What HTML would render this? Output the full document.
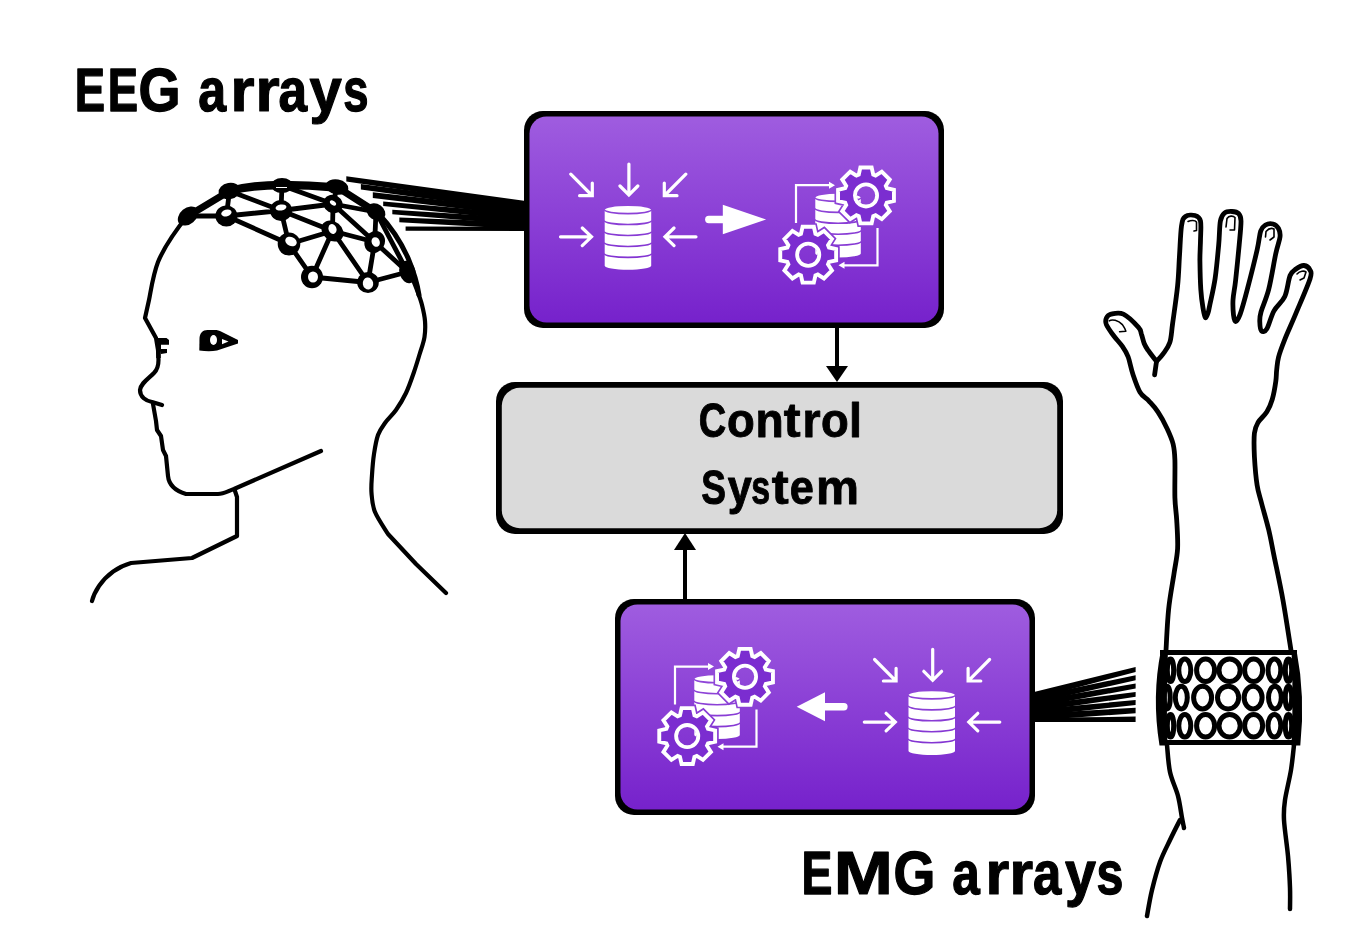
<!DOCTYPE html>
<html><head><meta charset="utf-8">
<style>
html,body{margin:0;padding:0;background:#fff;width:1362px;height:951px;overflow:hidden}
svg{display:block}
text{font-family:"Liberation Sans",sans-serif;font-weight:bold;fill:#000;-webkit-font-smoothing:antialiased}
</style></head>
<body>
<svg width="1362" height="951" viewBox="0 0 1362 951">
<defs>
<linearGradient id="PG1" gradientUnits="userSpaceOnUse" x1="0" y1="111" x2="0" y2="328">
<stop offset="0" stop-color="#a05ee0"/>
<stop offset="1" stop-color="#7520cb"/>
</linearGradient>
<linearGradient id="PG2" gradientUnits="userSpaceOnUse" x1="0" y1="599" x2="0" y2="815">
<stop offset="0" stop-color="#a05ee0"/>
<stop offset="1" stop-color="#7520cb"/>
</linearGradient>
</defs>
<g opacity="0.999"><text transform="translate(74.76 111.00) scale(0.7517 1)" font-size="60.47" stroke="#000" stroke-width="1.2" vector-effect="non-scaling-stroke" stroke-linejoin="round">E</text>
<text transform="translate(107.66 111.00) scale(0.7517 1)" font-size="60.47" stroke="#000" stroke-width="1.2" vector-effect="non-scaling-stroke" stroke-linejoin="round">E</text>
<text transform="translate(138.58 111.00) scale(0.8945 1)" font-size="60.47" stroke="#000" stroke-width="1.2" vector-effect="non-scaling-stroke" stroke-linejoin="round">G</text>
<text transform="translate(198.23 111.00) scale(0.8281 1)" font-size="60.47" stroke="#000" stroke-width="1.2" vector-effect="non-scaling-stroke" stroke-linejoin="round">a</text>
<text transform="translate(230.54 111.00) scale(1.0199 1)" font-size="60.47" stroke="#000" stroke-width="1.2" vector-effect="non-scaling-stroke" stroke-linejoin="round">r</text>
<text transform="translate(255.51 111.00) scale(1.0252 1)" font-size="60.47" stroke="#000" stroke-width="1.2" vector-effect="non-scaling-stroke" stroke-linejoin="round">r</text>
<text transform="translate(278.39 111.00) scale(0.8499 1)" font-size="60.47" stroke="#000" stroke-width="1.2" vector-effect="non-scaling-stroke" stroke-linejoin="round">a</text>
<text transform="translate(309.45 111.00) scale(0.9595 1)" font-size="60.47" stroke="#000" stroke-width="1.2" vector-effect="non-scaling-stroke" stroke-linejoin="round">y</text>
<text transform="translate(343.20 111.00) scale(0.7511 1)" font-size="60.47" stroke="#000" stroke-width="1.2" vector-effect="non-scaling-stroke" stroke-linejoin="round">s</text>
<text transform="translate(801.60 894.30) scale(0.7537 1)" font-size="61.48" stroke="#000" stroke-width="1.2" vector-effect="non-scaling-stroke" stroke-linejoin="round">E</text>
<text transform="translate(833.85 894.30) scale(1.1561 1)" font-size="61.48" stroke="#000" stroke-width="1.2" vector-effect="non-scaling-stroke" stroke-linejoin="round">M</text>
<text transform="translate(893.39 894.30) scale(0.8749 1)" font-size="61.48" stroke="#000" stroke-width="1.2" vector-effect="non-scaling-stroke" stroke-linejoin="round">G</text>
<text transform="translate(952.25 894.30) scale(0.8053 1)" font-size="61.48" stroke="#000" stroke-width="1.2" vector-effect="non-scaling-stroke" stroke-linejoin="round">a</text>
<text transform="translate(985.58 894.30) scale(0.9924 1)" font-size="61.48" stroke="#000" stroke-width="1.2" vector-effect="non-scaling-stroke" stroke-linejoin="round">r</text>
<text transform="translate(1009.40 894.30) scale(0.9871 1)" font-size="61.48" stroke="#000" stroke-width="1.2" vector-effect="non-scaling-stroke" stroke-linejoin="round">r</text>
<text transform="translate(1033.11 894.30) scale(0.8266 1)" font-size="61.48" stroke="#000" stroke-width="1.2" vector-effect="non-scaling-stroke" stroke-linejoin="round">a</text>
<text transform="translate(1065.07 894.30) scale(0.9046 1)" font-size="61.48" stroke="#000" stroke-width="1.2" vector-effect="non-scaling-stroke" stroke-linejoin="round">y</text>
<text transform="translate(1096.50 894.30) scale(0.7861 1)" font-size="61.48" stroke="#000" stroke-width="1.2" vector-effect="non-scaling-stroke" stroke-linejoin="round">s</text></g>
<g fill="none" stroke="#000" stroke-linecap="round" stroke-linejoin="round">
<path stroke-width="4.2" d="M188 215 C176 230 165 245 158 262 C153 275 151 290 149 300 L145 318 L156 338 L158 350 L158.5 360 C158.5 365 158 369 154 373 C148 379 141 383 140 390 C140 397 146 401 152 402 L162 405"/>
<path stroke-width="4.2" d="M153 404 L156 421 L157 430 L161 436 L163 450 L166 456 L168 476 C169 486 176 491 186 494 L218 494 C224 494 228 491 234 489 L321 451"/>
<path stroke-width="4.2" d="M235 491 L237 497 L237 536 L192 558 L131 563 C117 567 106 576 99 586 C95 592 93 597 92 601"/>
<path stroke-width="4.2" d="M411.0 275.0 C412.0 277.5 415.2 285.0 417.0 290.0 C418.8 295.0 420.7 299.8 422.0 305.0 C423.3 310.2 424.6 315.7 425.0 321.0 C425.4 326.3 425.3 331.7 424.5 337.0 C423.7 342.3 421.8 347.2 420.0 353.0 C418.2 358.8 416.3 365.3 414.0 372.0 C411.7 378.7 409.0 386.7 406.0 393.0 C403.0 399.3 399.5 405.0 396.0 410.0 C392.5 415.0 388.0 418.8 385.0 423.0 C382.0 427.2 379.8 429.8 378.0 435.0 C376.2 440.2 375.0 447.3 374.0 454.0 C373.0 460.7 372.4 468.5 372.0 475.0 C371.6 481.5 371.0 486.8 371.5 493.0 C372.0 499.2 372.2 505.2 375.0 512.0 C377.8 518.8 385.8 530.3 388.0 534.0 L416 564 L446 593"/>
<path stroke-width="4.5" stroke-linecap="butt" d="M158.5 339 L158.5 358"/>
</g>
<path d="M156 338 L166.5 338 L169 340 L169 344.8 L161 344.8 L161 349 L167 349 L167 353 L161 354 Z" fill="#000"/>
<path d="M199.3 350.5 L199.5 338 C199.8 333.5 202.5 330 207.5 330 L216.5 330 C219 330.5 221 331.5 223 332.5 L238 340 L238 343.5 L217 350.5 C212 351.5 206 351.5 199.3 350.5 Z" fill="#000"/>
<ellipse cx="213.5" cy="340" rx="3.5" ry="5" fill="#fff"/>
<path d="M222 339 L228.5 341.5 L222 344.2 Z" fill="#fff"/>

<g fill="none" stroke="#000" stroke-linecap="round" stroke-linejoin="round">
<path stroke-width="4.8" d="M188 216 L226.4 216 M229.5 191 L226.4 216 M226.4 216 L281 210.5 M226.4 216 L289 244 M229.5 191 L281 210.5 M282 185.5 L281 210.5 M281 210.5 L333 204 M282 185.5 L333 204 M281 210.5 L332.5 231 M281 210.5 L289 244 M337 187 L333 204 M333 204 L332.5 231 M333 204 L376 212 M333 204 L374.7 242 M289 244 L332.5 231 M289 244 L312 277 M332.5 231 L312 277 M332.5 231 L368 282.5 M332.5 231 L374.7 242 M374.7 242 L368 282.5 M374.7 242 L376 212 M312 277 L368 282.5 M368 282.5 L407.5 272 M374.7 242 L407.5 272 M376 212 L407.5 272"/>
<path stroke-width="7" d="M188 216 L229.5 191"/>
<path stroke-width="8.5" d="M229.5 191 C245 187 265 185 282 185 C300 185 320 186 337 187.5"/>
<path stroke-width="7" d="M337 187 L376 212"/>
<path stroke-width="5" d="M378 213 C392 228 400 240 408 258 C413 270 417 282 419 295"/>
</g>
<g fill="#000">
<ellipse cx="188" cy="216" rx="11.5" ry="8" transform="rotate(-40 188 216)"/>
<ellipse cx="229.5" cy="191" rx="11" ry="8" transform="rotate(-10 229.5 191)"/>
<ellipse cx="282" cy="185.5" rx="11" ry="7.5"/>
<ellipse cx="337" cy="187" rx="11.5" ry="7.5" transform="rotate(10 337 187)"/>
<ellipse cx="376" cy="212" rx="10" ry="8" transform="rotate(35 376 212)"/>
<ellipse cx="407.5" cy="272" rx="8" ry="11.5" transform="rotate(-15 407.5 272)"/>
</g>
<path d="M276 187.5 L287 187.5" stroke="#fff" stroke-width="1"/>
<g>
<ellipse cx="226.4" cy="216" rx="11" ry="10.5" transform="rotate(0 226.4 216)" fill="#000"/>
<ellipse cx="226.4" cy="213" rx="5.3" ry="3.3" transform="rotate(-15 226.4 213)" fill="#fff"/>
<ellipse cx="281" cy="210.5" rx="11" ry="10.5" transform="rotate(0 281 210.5)" fill="#000"/>
<ellipse cx="281" cy="207.5" rx="5.5" ry="3" transform="rotate(-10 281 207.5)" fill="#fff"/>
<ellipse cx="333" cy="204" rx="10" ry="9" transform="rotate(30 333 204)" fill="#000"/>
<ellipse cx="333" cy="203" rx="3.5" ry="2" transform="rotate(35 333 203)" fill="#fff"/>
<ellipse cx="289" cy="244" rx="11.3" ry="11.5" transform="rotate(0 289 244)" fill="#000"/>
<ellipse cx="291" cy="241.5" rx="6" ry="4.5" transform="rotate(25 291 241.5)" fill="#fff"/>
<ellipse cx="332.5" cy="231" rx="12" ry="9.5" transform="rotate(40 332.5 231)" fill="#000"/>
<ellipse cx="332.5" cy="229" rx="4" ry="5" transform="rotate(-20 332.5 229)" fill="#fff"/>
<ellipse cx="374.7" cy="242" rx="10" ry="11.3" transform="rotate(30 374.7 242)" fill="#000"/>
<ellipse cx="375.7" cy="242" rx="4" ry="5" transform="rotate(-25 375.7 242)" fill="#fff"/>
<ellipse cx="312" cy="277" rx="11" ry="11.3" transform="rotate(0 312 277)" fill="#000"/>
<ellipse cx="313" cy="277" rx="5" ry="5.6" transform="rotate(0 313 277)" fill="#fff"/>
<ellipse cx="368" cy="282.5" rx="10.8" ry="10.5" transform="rotate(0 368 282.5)" fill="#000"/>
<ellipse cx="368" cy="283.5" rx="5.2" ry="6" transform="rotate(-10 368 283.5)" fill="#fff"/>
</g>
<path d="M346.3 176.3 L524 200.70 L524 207.70 L346.3 181.5 Z" fill="#000"/>
<path d="M360.9 184 L524 205.03 L524 212.03 L360.9 189.5 Z" fill="#000"/>
<path d="M372.8 192.3 L524 209.36 L524 216.36 L372.8 197.9 Z" fill="#000"/>
<path d="M383.2 201.4 L524 213.69 L524 220.69 L383.2 206 Z" fill="#000"/>
<path d="M392.3 209.8 L524 218.02 L524 225.02 L392.3 214.3 Z" fill="#000"/>
<path d="M399.3 217.4 L524 222.35 L524 229.35 L399.3 222.3 Z" fill="#000"/>
<path d="M405.6 226.5 L524 226.68 L524 231.00 L405.6 230.7 Z" fill="#000"/>
<g fill="none" stroke="#000" stroke-linecap="round" stroke-linejoin="round">
<path stroke-width="4.8" d="M1166.0 650.4 C1166.4 643.6 1167.3 622.2 1168.6 609.4 C1169.9 596.6 1172.5 583.7 1174.0 573.6 C1175.5 563.5 1177.1 557.5 1177.6 548.6 C1178.0 539.7 1177.2 528.5 1176.7 520.0 C1176.2 511.5 1175.2 507.6 1174.9 497.6 C1174.6 487.6 1175.2 469.0 1174.9 460.1 C1174.6 451.2 1174.4 449.4 1173.1 444.0 C1171.8 438.6 1169.3 433.3 1166.8 427.9 C1164.3 422.5 1160.9 416.3 1157.9 411.8 C1154.9 407.3 1152.0 404.4 1149.0 401.1 C1146.0 397.8 1142.7 396.7 1140.0 392.2 C1137.3 387.7 1134.9 380.2 1132.9 374.3 C1130.9 368.4 1129.8 361.5 1128.1 356.8 C1126.3 352.1 1124.8 349.9 1122.4 346.4 C1120.0 342.9 1116.6 339.6 1113.9 336.0 C1111.2 332.4 1107.7 327.6 1106.4 324.6 C1105.2 321.6 1105.6 319.7 1106.4 318.0 C1107.2 316.3 1108.3 314.8 1111.1 314.2 C1113.9 313.6 1118.8 312.0 1123.4 314.2 C1128.0 316.4 1135.5 324.1 1138.5 327.4 C1141.5 330.7 1140.5 331.4 1141.4 334.1 C1142.4 336.8 1143.1 340.8 1144.2 343.5 C1145.3 346.2 1146.0 347.2 1148.0 350.2 C1150.0 353.2 1155.1 359.6 1156.5 361.5 C1157.6 360.2 1160.9 357.0 1163.1 353.9 C1165.3 350.8 1168.2 347.6 1169.8 342.6 C1171.4 337.6 1171.3 333.2 1172.6 323.7 C1173.9 314.2 1176.5 296.9 1177.6 285.8 C1178.7 274.7 1178.8 267.2 1179.4 257.2 C1180.1 247.2 1180.5 232.8 1181.5 226.0 C1182.5 219.2 1183.2 218.2 1185.5 216.5 C1187.8 214.8 1192.5 214.8 1195.0 215.5 C1197.5 216.2 1199.6 216.9 1200.5 221.0 C1201.4 225.1 1200.6 233.5 1200.5 240.0 C1200.4 246.5 1199.9 251.8 1199.9 260.0 C1200.0 268.2 1200.3 281.4 1200.8 289.4 C1201.3 297.4 1202.2 303.3 1203.0 308.0 C1203.8 312.7 1204.5 316.7 1205.3 317.5 C1206.1 318.3 1207.3 315.0 1208.0 313.0 C1208.7 311.0 1208.5 311.1 1209.7 305.4 C1210.9 299.7 1213.6 288.7 1215.1 278.6 C1216.6 268.5 1217.8 254.3 1218.7 244.7 C1219.6 235.1 1219.4 226.3 1220.4 221.0 C1221.4 215.7 1222.6 214.6 1224.5 213.0 C1226.4 211.4 1229.7 211.4 1232.0 211.5 C1234.3 211.6 1237.0 211.9 1238.5 213.5 C1240.0 215.1 1240.9 215.8 1241.0 221.0 C1241.1 226.2 1240.1 234.8 1239.2 244.7 C1238.3 254.6 1236.6 271.2 1235.6 280.4 C1234.6 289.6 1233.3 294.2 1233.0 300.0 C1232.7 305.8 1233.1 311.4 1233.5 315.0 C1233.9 318.6 1234.4 321.6 1235.5 321.5 C1236.6 321.4 1238.1 319.8 1240.1 314.4 C1242.1 309.0 1244.5 300.1 1247.3 289.4 C1250.1 278.7 1254.9 259.7 1257.1 250.0 C1259.3 240.3 1259.3 235.2 1260.7 231.0 C1262.1 226.8 1263.5 226.2 1265.5 225.0 C1267.5 223.8 1270.8 223.4 1273.0 224.0 C1275.2 224.6 1277.3 226.3 1278.5 228.5 C1279.7 230.7 1280.5 232.8 1280.0 237.0 C1279.5 241.2 1277.7 244.9 1275.8 253.6 C1273.9 262.3 1271.2 279.7 1268.7 289.4 C1266.2 299.1 1262.5 306.6 1261.0 312.0 C1259.5 317.4 1259.7 318.8 1259.8 322.0 C1259.9 325.2 1260.3 329.9 1261.5 331.0 C1262.7 332.1 1264.8 332.1 1266.9 328.7 C1269.0 325.3 1271.0 316.2 1274.0 310.8 C1277.0 305.4 1282.1 302.4 1284.8 296.5 C1287.5 290.6 1288.2 280.1 1290.1 275.5 C1292.0 270.9 1293.7 270.7 1296.0 269.0 C1298.3 267.3 1301.7 265.3 1304.0 265.5 C1306.3 265.7 1309.0 267.8 1310.0 270.0 C1311.0 272.2 1312.4 271.6 1310.0 279.0 C1307.6 286.4 1299.7 304.3 1295.5 314.4 C1291.3 324.5 1287.6 332.2 1284.8 339.4 C1282.0 346.5 1279.8 352.2 1278.5 357.3 C1277.2 362.4 1277.2 365.8 1276.7 369.8 C1276.2 373.8 1276.5 376.5 1275.8 381.4 C1275.1 386.3 1273.8 394.2 1272.3 399.3 C1270.8 404.4 1269.3 407.9 1266.9 411.8 C1264.5 415.7 1260.1 418.9 1258.0 422.5 C1255.9 426.1 1255.0 427.6 1254.4 433.3 C1253.8 439.0 1254.0 447.9 1254.4 456.5 C1254.9 465.1 1255.9 477.4 1257.1 485.1 C1258.3 492.9 1259.6 495.6 1261.5 503.0 C1263.4 510.4 1266.6 521.0 1268.7 529.8 C1270.8 538.6 1271.6 543.9 1274.0 555.7 C1276.4 567.5 1280.2 584.6 1283.0 600.4 C1285.8 616.2 1289.7 642.1 1291.0 650.4"/>
<path stroke-width="4.8" d="M1154.6 374.8 C1154.9 372.6 1156.2 363.7 1156.5 361.5"/>
<path stroke-width="4.5" d="M1167.0 745.0 C1167.5 749.5 1168.2 763.5 1170.0 772.0 C1171.8 780.5 1176.0 788.3 1178.0 796.0 C1180.0 803.7 1181.0 812.7 1182.0 818.0 C1183.0 823.3 1183.7 826.3 1184.0 828.0"/>
<path stroke-width="4.5" d="M1180.0 820.0 C1178.3 823.3 1173.3 833.0 1170.0 840.0 C1166.7 847.0 1163.0 853.7 1160.0 862.0 C1157.0 870.3 1154.2 881.0 1152.0 890.0 C1149.8 899.0 1147.8 911.7 1147.0 916.0"/>
<path stroke-width="4.5" d="M1294.0 745.0 C1293.5 749.2 1292.5 760.8 1291.0 770.0 C1289.5 779.2 1286.2 791.7 1285.0 800.0 C1283.8 808.3 1283.5 810.7 1284.0 820.0 C1284.5 829.3 1287.0 844.7 1288.0 856.0 C1289.0 867.3 1289.7 879.2 1290.0 888.0 C1290.3 896.8 1290.0 905.5 1290.0 909.0"/>
<path stroke-width="1.6" d="M1109.2 320.8 C1112 319 1118 320 1122.4 324.6 C1124 327 1125.5 329.5 1125.8 331.2 L1119.6 331.7"/>
<path stroke-width="1.6" d="M1188 221.5 C1191 220 1195 220 1196.5 222 L1196.5 230.5 L1194 231"/>
<path stroke-width="1.6" d="M1226 227 L1227 218.5 C1229 215.5 1233 215.5 1235 217.5 L1234.5 230 L1230 230"/>
<path stroke-width="1.6" d="M1265.5 237 L1266 231.5 C1269 228 1272 228 1274 229 L1274 237 L1270 240"/>
<path stroke-width="1.6" d="M1297 274 C1300 271 1304 270.5 1306 272 L1304 278 L1300 280"/>
</g>
<g>
<ellipse cx="1170.5" cy="670.3" rx="3.2" ry="11.3" fill="none" stroke="#000" stroke-width="5"/>
<ellipse cx="1184.8" cy="670.3" rx="6.0" ry="11.3" fill="none" stroke="#000" stroke-width="5"/>
<ellipse cx="1205.6" cy="670.3" rx="9.0" ry="11.3" fill="none" stroke="#000" stroke-width="5"/>
<ellipse cx="1229.6" cy="670.3" rx="10.6" ry="11.3" fill="none" stroke="#000" stroke-width="5"/>
<ellipse cx="1253.6" cy="670.3" rx="9.0" ry="11.3" fill="none" stroke="#000" stroke-width="5"/>
<ellipse cx="1274.4" cy="670.3" rx="6.4" ry="11.3" fill="none" stroke="#000" stroke-width="5"/>
<ellipse cx="1288.5" cy="670.3" rx="3.2" ry="11.3" fill="none" stroke="#000" stroke-width="5"/>
<ellipse cx="1167.0" cy="697.6" rx="3.2" ry="11.3" fill="none" stroke="#000" stroke-width="5"/>
<ellipse cx="1181.3" cy="697.6" rx="6.0" ry="11.3" fill="none" stroke="#000" stroke-width="5"/>
<ellipse cx="1202.6" cy="697.6" rx="9.0" ry="11.3" fill="none" stroke="#000" stroke-width="5"/>
<ellipse cx="1228.1" cy="697.6" rx="10.6" ry="11.3" fill="none" stroke="#000" stroke-width="5"/>
<ellipse cx="1253.1" cy="697.6" rx="9.0" ry="11.3" fill="none" stroke="#000" stroke-width="5"/>
<ellipse cx="1274.9" cy="697.6" rx="6.4" ry="11.3" fill="none" stroke="#000" stroke-width="5"/>
<ellipse cx="1288.5" cy="697.6" rx="3.2" ry="11.3" fill="none" stroke="#000" stroke-width="5"/>
<ellipse cx="1170.5" cy="725.8" rx="3.2" ry="11.3" fill="none" stroke="#000" stroke-width="5"/>
<ellipse cx="1184.8" cy="725.8" rx="6.0" ry="11.3" fill="none" stroke="#000" stroke-width="5"/>
<ellipse cx="1205.6" cy="725.8" rx="9.0" ry="11.3" fill="none" stroke="#000" stroke-width="5"/>
<ellipse cx="1229.6" cy="725.8" rx="10.6" ry="11.3" fill="none" stroke="#000" stroke-width="5"/>
<ellipse cx="1253.6" cy="725.8" rx="9.0" ry="11.3" fill="none" stroke="#000" stroke-width="5"/>
<ellipse cx="1274.4" cy="725.8" rx="6.4" ry="11.3" fill="none" stroke="#000" stroke-width="5"/>
<ellipse cx="1288.5" cy="725.8" rx="3.2" ry="11.3" fill="none" stroke="#000" stroke-width="5"/>
<path d="M1160 652.6 L1297 652.6 M1160 742.5 L1300 742.5" stroke="#000" stroke-width="5"/>
<path d="M1161 650 Q1151.5 697 1159.5 745.4 L1167.5 745.4 Q1166 697 1168 650 Z" fill="#000"/>
<path d="M1291.5 650 Q1293.5 697 1291.5 745.4 L1300.3 745.4 Q1305.5 697 1296.5 650 Z" fill="#000"/>
</g>
<path d="M1135.6 667.1 L1135.6 672 L1034 698.90 L1034 691.90 Z" fill="#000"/>
<path d="M1135.6 675.3 L1135.6 680.3 L1034 703.21 L1034 696.21 Z" fill="#000"/>
<path d="M1135.6 683.6 L1135.6 688.5 L1034 707.52 L1034 700.52 Z" fill="#000"/>
<path d="M1135.6 691.9 L1135.6 696.8 L1034 711.83 L1034 704.83 Z" fill="#000"/>
<path d="M1135.6 700.1 L1135.6 705 L1034 716.14 L1034 709.14 Z" fill="#000"/>
<path d="M1135.6 707.8 L1135.6 713.3 L1034 720.45 L1034 713.45 Z" fill="#000"/>
<path d="M1135.6 716.6 L1135.6 722.1 L1034 722.10 L1034 717.76 Z" fill="#000"/>
<rect x="524" y="111" width="420" height="217" rx="19"/><rect x="529.5" y="116.5" width="409" height="206" rx="17" fill="url(#PG1)"/>
<rect x="496" y="382" width="567" height="152" rx="19"/><rect x="501.8" y="387.8" width="555.4" height="140.4" rx="18" fill="#dadada"/>
<rect x="615" y="599" width="420" height="216" rx="19"/><rect x="620.5" y="604.5" width="409" height="205" rx="17" fill="url(#PG2)"/>
<g opacity="0.999"><text transform="translate(698.79 437.15) scale(0.7964 1)" font-size="47.82" stroke="#000" stroke-width="0.9" vector-effect="non-scaling-stroke" stroke-linejoin="round">C</text>
<text transform="translate(726.98 437.15) scale(0.9500 1)" font-size="47.82" stroke="#000" stroke-width="0.9" vector-effect="non-scaling-stroke" stroke-linejoin="round">o</text>
<text transform="translate(755.41 437.15) scale(0.9657 1)" font-size="47.82" stroke="#000" stroke-width="0.9" vector-effect="non-scaling-stroke" stroke-linejoin="round">n</text>
<text transform="translate(783.63 437.15) scale(1.0571 1)" font-size="47.82" stroke="#000" stroke-width="0.9" vector-effect="non-scaling-stroke" stroke-linejoin="round">t</text>
<text transform="translate(802.39 437.15) scale(0.9706 1)" font-size="47.82" stroke="#000" stroke-width="0.9" vector-effect="non-scaling-stroke" stroke-linejoin="round">r</text>
<text transform="translate(820.88 437.15) scale(0.9500 1)" font-size="47.82" stroke="#000" stroke-width="0.9" vector-effect="non-scaling-stroke" stroke-linejoin="round">o</text>
<text transform="translate(849.09 437.15) scale(0.9754 1)" font-size="47.82" stroke="#000" stroke-width="0.9" vector-effect="non-scaling-stroke" stroke-linejoin="round">l</text>
<text transform="translate(701.28 504.25) scale(0.7749 1)" font-size="47.82" stroke="#000" stroke-width="0.9" vector-effect="non-scaling-stroke" stroke-linejoin="round">S</text>
<text transform="translate(727.81 504.25) scale(0.9051 1)" font-size="47.82" stroke="#000" stroke-width="0.9" vector-effect="non-scaling-stroke" stroke-linejoin="round">y</text>
<text transform="translate(751.36 504.25) scale(0.7101 1)" font-size="47.82" stroke="#000" stroke-width="0.9" vector-effect="non-scaling-stroke" stroke-linejoin="round">s</text>
<text transform="translate(771.73 504.25) scale(1.0639 1)" font-size="47.82" stroke="#000" stroke-width="0.9" vector-effect="non-scaling-stroke" stroke-linejoin="round">t</text>
<text transform="translate(789.86 504.25) scale(0.9050 1)" font-size="47.82" stroke="#000" stroke-width="0.9" vector-effect="non-scaling-stroke" stroke-linejoin="round">e</text>
<text transform="translate(816.06 504.25) scale(1.0109 1)" font-size="47.82" stroke="#000" stroke-width="0.9" vector-effect="non-scaling-stroke" stroke-linejoin="round">m</text></g>
<rect x="835" y="326" width="4" height="42"/>
<path d="M826 366 L848 366 L837 382 Z"/>
<rect x="683" y="548" width="4" height="53"/>
<path d="M674 550 L696 550 L685 533 Z"/>
<g id="topicons">
<path d="M604.70 210.00 A23.25 4.0 0 0 1 651.20 210.00 L651.20 265.70 A23.25 4.0 0 0 1 604.70 265.70 Z" fill="#fff"/>
<path d="M604.20 209.60 A23.75 4.0 0 0 0 651.70 209.60" fill="none" stroke="url(#PG1)" stroke-width="1.6"/>
<path d="M604.20 220.55 A23.75 4.0 0 0 0 651.70 220.55" fill="none" stroke="url(#PG1)" stroke-width="1.6"/>
<path d="M604.20 231.50 A23.75 4.0 0 0 0 651.70 231.50" fill="none" stroke="url(#PG1)" stroke-width="1.6"/>
<path d="M604.20 242.45 A23.75 4.0 0 0 0 651.70 242.45" fill="none" stroke="url(#PG1)" stroke-width="1.6"/>
<path d="M604.20 253.40 A23.75 4.0 0 0 0 651.70 253.40" fill="none" stroke="url(#PG1)" stroke-width="1.6"/>
<path d="M628.90 164.00 L628.90 194.50 M620.00 186.00 L628.90 195.00 L637.80 186.00 M570.80 174.20 L592.00 195.50 M579.60 195.70 L592.30 195.70 L592.30 183.00 M685.80 174.20 L664.60 195.50 M677.00 195.70 L664.30 195.70 L664.30 183.00 M560.50 236.80 L591.50 236.80 M582.30 228.00 L591.50 236.80 L582.30 245.60 M696.00 236.80 L665.00 236.80 M674.00 228.00 L665.00 236.80 L674.00 245.60" fill="none" stroke="#fff" stroke-width="3.2" stroke-linecap="round" stroke-linejoin="miter"/>
<path d="M708.8 219.5 L724 219.5" stroke="#fff" stroke-width="7.4" stroke-linecap="round"/><path d="M722.8 204.8 L766.1 219.5 L722.8 234.2 Z" fill="#fff"/>
<path d="M796.00 223.00 L796.00 185.20 L831.00 185.20 M877.50 228.00 L877.50 265.30 L842.00 265.30" fill="none" stroke="#fff" stroke-width="2.2"/>
<path d="M835.00 185.20 L829.00 181.70 L829.00 188.70 Z M838.50 265.30 L844.50 261.80 L844.50 268.80 Z" fill="#fff"/>
<path d="M815.30 197.80 A22.75 4.0 0 0 1 860.80 197.80 L860.80 253.50 A22.75 4.0 0 0 1 815.30 253.50 Z" fill="#fff"/>
<path d="M814.80 197.40 A23.25 4.0 0 0 0 861.30 197.40" fill="none" stroke="url(#PG1)" stroke-width="1.6"/>
<path d="M814.80 208.35 A23.25 4.0 0 0 0 861.30 208.35" fill="none" stroke="url(#PG1)" stroke-width="1.6"/>
<path d="M814.80 219.30 A23.25 4.0 0 0 0 861.30 219.30" fill="none" stroke="url(#PG1)" stroke-width="1.6"/>
<path d="M814.80 230.25 A23.25 4.0 0 0 0 861.30 230.25" fill="none" stroke="url(#PG1)" stroke-width="1.6"/>
<path d="M814.80 241.20 A23.25 4.0 0 0 0 861.30 241.20" fill="none" stroke="url(#PG1)" stroke-width="1.6"/>
<path d="M858.76 174.62 L860.37 167.46 L871.63 167.46 L873.24 174.62 L875.58 175.59 L881.77 171.66 L889.74 179.63 L885.81 185.82 L886.78 188.16 L893.94 189.77 L893.94 201.03 L886.78 202.64 L885.81 204.98 L889.74 211.17 L881.77 219.14 L875.58 215.21 L873.24 216.18 L871.63 223.34 L860.37 223.34 L858.76 216.18 L856.42 215.21 L850.23 219.14 L842.26 211.17 L846.19 204.98 L845.22 202.64 L838.06 201.03 L838.06 189.77 L845.22 188.16 L846.19 185.82 L842.26 179.63 L850.23 171.66 L856.42 175.59 Z" fill="none" stroke="url(#PG1)" stroke-width="7.2" stroke-linejoin="miter"/>
<path d="M858.76 174.62 L860.37 167.46 L871.63 167.46 L873.24 174.62 L875.58 175.59 L881.77 171.66 L889.74 179.63 L885.81 185.82 L886.78 188.16 L893.94 189.77 L893.94 201.03 L886.78 202.64 L885.81 204.98 L889.74 211.17 L881.77 219.14 L875.58 215.21 L873.24 216.18 L871.63 223.34 L860.37 223.34 L858.76 216.18 L856.42 215.21 L850.23 219.14 L842.26 211.17 L846.19 204.98 L845.22 202.64 L838.06 201.03 L838.06 189.77 L845.22 188.16 L846.19 185.82 L842.26 179.63 L850.23 171.66 L856.42 175.59 Z M875.30 195.40 A9.3 9.3 0 1 0 856.70 195.40 A9.3 9.3 0 1 0 875.30 195.40 Z" fill="#7b2dd0" fill-rule="evenodd"/>
<path d="M858.76 174.62 L860.37 167.46 L871.63 167.46 L873.24 174.62 L875.58 175.59 L881.77 171.66 L889.74 179.63 L885.81 185.82 L886.78 188.16 L893.94 189.77 L893.94 201.03 L886.78 202.64 L885.81 204.98 L889.74 211.17 L881.77 219.14 L875.58 215.21 L873.24 216.18 L871.63 223.34 L860.37 223.34 L858.76 216.18 L856.42 215.21 L850.23 219.14 L842.26 211.17 L846.19 204.98 L845.22 202.64 L838.06 201.03 L838.06 189.77 L845.22 188.16 L846.19 185.82 L842.26 179.63 L850.23 171.66 L856.42 175.59 Z" fill="none" stroke="#fff" stroke-width="3.9" stroke-linejoin="miter"/>
<circle cx="866.00" cy="195.40" r="11.1" fill="none" stroke="#fff" stroke-width="3.8"/>
<path d="M800.96 233.92 L802.57 226.76 L813.83 226.76 L815.44 233.92 L817.78 234.89 L823.97 230.96 L831.94 238.93 L828.01 245.12 L828.98 247.46 L836.14 249.07 L836.14 260.33 L828.98 261.94 L828.01 264.28 L831.94 270.47 L823.97 278.44 L817.78 274.51 L815.44 275.48 L813.83 282.64 L802.57 282.64 L800.96 275.48 L798.62 274.51 L792.43 278.44 L784.46 270.47 L788.39 264.28 L787.42 261.94 L780.26 260.33 L780.26 249.07 L787.42 247.46 L788.39 245.12 L784.46 238.93 L792.43 230.96 L798.62 234.89 Z" fill="none" stroke="url(#PG1)" stroke-width="7.2" stroke-linejoin="miter"/>
<path d="M800.96 233.92 L802.57 226.76 L813.83 226.76 L815.44 233.92 L817.78 234.89 L823.97 230.96 L831.94 238.93 L828.01 245.12 L828.98 247.46 L836.14 249.07 L836.14 260.33 L828.98 261.94 L828.01 264.28 L831.94 270.47 L823.97 278.44 L817.78 274.51 L815.44 275.48 L813.83 282.64 L802.57 282.64 L800.96 275.48 L798.62 274.51 L792.43 278.44 L784.46 270.47 L788.39 264.28 L787.42 261.94 L780.26 260.33 L780.26 249.07 L787.42 247.46 L788.39 245.12 L784.46 238.93 L792.43 230.96 L798.62 234.89 Z M817.50 254.70 A9.3 9.3 0 1 0 798.90 254.70 A9.3 9.3 0 1 0 817.50 254.70 Z" fill="#7b2dd0" fill-rule="evenodd"/>
<path d="M800.96 233.92 L802.57 226.76 L813.83 226.76 L815.44 233.92 L817.78 234.89 L823.97 230.96 L831.94 238.93 L828.01 245.12 L828.98 247.46 L836.14 249.07 L836.14 260.33 L828.98 261.94 L828.01 264.28 L831.94 270.47 L823.97 278.44 L817.78 274.51 L815.44 275.48 L813.83 282.64 L802.57 282.64 L800.96 275.48 L798.62 274.51 L792.43 278.44 L784.46 270.47 L788.39 264.28 L787.42 261.94 L780.26 260.33 L780.26 249.07 L787.42 247.46 L788.39 245.12 L784.46 238.93 L792.43 230.96 L798.62 234.89 Z" fill="none" stroke="#fff" stroke-width="3.9" stroke-linejoin="miter"/>
<circle cx="808.20" cy="254.70" r="11.1" fill="none" stroke="#fff" stroke-width="3.8"/>
</g>
<g id="boticons">
<path d="M908.50 695.30 A23.25 4.0 0 0 1 955.00 695.30 L955.00 751.00 A23.25 4.0 0 0 1 908.50 751.00 Z" fill="#fff"/>
<path d="M908.00 694.90 A23.75 4.0 0 0 0 955.50 694.90" fill="none" stroke="url(#PG2)" stroke-width="1.6"/>
<path d="M908.00 705.85 A23.75 4.0 0 0 0 955.50 705.85" fill="none" stroke="url(#PG2)" stroke-width="1.6"/>
<path d="M908.00 716.80 A23.75 4.0 0 0 0 955.50 716.80" fill="none" stroke="url(#PG2)" stroke-width="1.6"/>
<path d="M908.00 727.75 A23.75 4.0 0 0 0 955.50 727.75" fill="none" stroke="url(#PG2)" stroke-width="1.6"/>
<path d="M908.00 738.70 A23.75 4.0 0 0 0 955.50 738.70" fill="none" stroke="url(#PG2)" stroke-width="1.6"/>
<path d="M932.70 649.30 L932.70 679.80 M923.80 671.30 L932.70 680.30 L941.60 671.30 M874.60 659.50 L895.80 680.80 M883.40 681.00 L896.10 681.00 L896.10 668.30 M989.60 659.50 L968.40 680.80 M980.80 681.00 L968.10 681.00 L968.10 668.30 M864.30 722.10 L895.30 722.10 M886.10 713.30 L895.30 722.10 L886.10 730.90 M999.80 722.10 L968.80 722.10 M977.80 713.30 L968.80 722.10 L977.80 730.90" fill="none" stroke="#fff" stroke-width="3.2" stroke-linecap="round" stroke-linejoin="miter"/>
<path d="M824 706.7 L843.9 706.7" stroke="#fff" stroke-width="7.4" stroke-linecap="round"/><path d="M825 692.2 L796.7 706.7 L825 721.2 Z" fill="#fff"/>
<path d="M675.00 704.40 L675.00 666.60 L710.00 666.60 M756.50 709.40 L756.50 746.70 L721.00 746.70" fill="none" stroke="#fff" stroke-width="2.2"/>
<path d="M714.00 666.60 L708.00 663.10 L708.00 670.10 Z M717.50 746.70 L723.50 743.20 L723.50 750.20 Z" fill="#fff"/>
<path d="M694.30 679.20 A22.75 4.0 0 0 1 739.80 679.20 L739.80 734.90 A22.75 4.0 0 0 1 694.30 734.90 Z" fill="#fff"/>
<path d="M693.80 678.80 A23.25 4.0 0 0 0 740.30 678.80" fill="none" stroke="url(#PG2)" stroke-width="1.6"/>
<path d="M693.80 689.75 A23.25 4.0 0 0 0 740.30 689.75" fill="none" stroke="url(#PG2)" stroke-width="1.6"/>
<path d="M693.80 700.70 A23.25 4.0 0 0 0 740.30 700.70" fill="none" stroke="url(#PG2)" stroke-width="1.6"/>
<path d="M693.80 711.65 A23.25 4.0 0 0 0 740.30 711.65" fill="none" stroke="url(#PG2)" stroke-width="1.6"/>
<path d="M693.80 722.60 A23.25 4.0 0 0 0 740.30 722.60" fill="none" stroke="url(#PG2)" stroke-width="1.6"/>
<path d="M737.76 656.02 L739.37 648.86 L750.63 648.86 L752.24 656.02 L754.58 656.99 L760.77 653.06 L768.74 661.03 L764.81 667.22 L765.78 669.56 L772.94 671.17 L772.94 682.43 L765.78 684.04 L764.81 686.38 L768.74 692.57 L760.77 700.54 L754.58 696.61 L752.24 697.58 L750.63 704.74 L739.37 704.74 L737.76 697.58 L735.42 696.61 L729.23 700.54 L721.26 692.57 L725.19 686.38 L724.22 684.04 L717.06 682.43 L717.06 671.17 L724.22 669.56 L725.19 667.22 L721.26 661.03 L729.23 653.06 L735.42 656.99 Z" fill="none" stroke="url(#PG2)" stroke-width="7.2" stroke-linejoin="miter"/>
<path d="M737.76 656.02 L739.37 648.86 L750.63 648.86 L752.24 656.02 L754.58 656.99 L760.77 653.06 L768.74 661.03 L764.81 667.22 L765.78 669.56 L772.94 671.17 L772.94 682.43 L765.78 684.04 L764.81 686.38 L768.74 692.57 L760.77 700.54 L754.58 696.61 L752.24 697.58 L750.63 704.74 L739.37 704.74 L737.76 697.58 L735.42 696.61 L729.23 700.54 L721.26 692.57 L725.19 686.38 L724.22 684.04 L717.06 682.43 L717.06 671.17 L724.22 669.56 L725.19 667.22 L721.26 661.03 L729.23 653.06 L735.42 656.99 Z M754.30 676.80 A9.3 9.3 0 1 0 735.70 676.80 A9.3 9.3 0 1 0 754.30 676.80 Z" fill="#7b2dd0" fill-rule="evenodd"/>
<path d="M737.76 656.02 L739.37 648.86 L750.63 648.86 L752.24 656.02 L754.58 656.99 L760.77 653.06 L768.74 661.03 L764.81 667.22 L765.78 669.56 L772.94 671.17 L772.94 682.43 L765.78 684.04 L764.81 686.38 L768.74 692.57 L760.77 700.54 L754.58 696.61 L752.24 697.58 L750.63 704.74 L739.37 704.74 L737.76 697.58 L735.42 696.61 L729.23 700.54 L721.26 692.57 L725.19 686.38 L724.22 684.04 L717.06 682.43 L717.06 671.17 L724.22 669.56 L725.19 667.22 L721.26 661.03 L729.23 653.06 L735.42 656.99 Z" fill="none" stroke="#fff" stroke-width="3.9" stroke-linejoin="miter"/>
<circle cx="745.00" cy="676.80" r="11.1" fill="none" stroke="#fff" stroke-width="3.8"/>
<path d="M679.96 715.32 L681.57 708.16 L692.83 708.16 L694.44 715.32 L696.78 716.29 L702.97 712.36 L710.94 720.33 L707.01 726.52 L707.98 728.86 L715.14 730.47 L715.14 741.73 L707.98 743.34 L707.01 745.68 L710.94 751.87 L702.97 759.84 L696.78 755.91 L694.44 756.88 L692.83 764.04 L681.57 764.04 L679.96 756.88 L677.62 755.91 L671.43 759.84 L663.46 751.87 L667.39 745.68 L666.42 743.34 L659.26 741.73 L659.26 730.47 L666.42 728.86 L667.39 726.52 L663.46 720.33 L671.43 712.36 L677.62 716.29 Z" fill="none" stroke="url(#PG2)" stroke-width="7.2" stroke-linejoin="miter"/>
<path d="M679.96 715.32 L681.57 708.16 L692.83 708.16 L694.44 715.32 L696.78 716.29 L702.97 712.36 L710.94 720.33 L707.01 726.52 L707.98 728.86 L715.14 730.47 L715.14 741.73 L707.98 743.34 L707.01 745.68 L710.94 751.87 L702.97 759.84 L696.78 755.91 L694.44 756.88 L692.83 764.04 L681.57 764.04 L679.96 756.88 L677.62 755.91 L671.43 759.84 L663.46 751.87 L667.39 745.68 L666.42 743.34 L659.26 741.73 L659.26 730.47 L666.42 728.86 L667.39 726.52 L663.46 720.33 L671.43 712.36 L677.62 716.29 Z M696.50 736.10 A9.3 9.3 0 1 0 677.90 736.10 A9.3 9.3 0 1 0 696.50 736.10 Z" fill="#7b2dd0" fill-rule="evenodd"/>
<path d="M679.96 715.32 L681.57 708.16 L692.83 708.16 L694.44 715.32 L696.78 716.29 L702.97 712.36 L710.94 720.33 L707.01 726.52 L707.98 728.86 L715.14 730.47 L715.14 741.73 L707.98 743.34 L707.01 745.68 L710.94 751.87 L702.97 759.84 L696.78 755.91 L694.44 756.88 L692.83 764.04 L681.57 764.04 L679.96 756.88 L677.62 755.91 L671.43 759.84 L663.46 751.87 L667.39 745.68 L666.42 743.34 L659.26 741.73 L659.26 730.47 L666.42 728.86 L667.39 726.52 L663.46 720.33 L671.43 712.36 L677.62 716.29 Z" fill="none" stroke="#fff" stroke-width="3.9" stroke-linejoin="miter"/>
<circle cx="687.20" cy="736.10" r="11.1" fill="none" stroke="#fff" stroke-width="3.8"/>
</g>
</svg>
</body></html>
